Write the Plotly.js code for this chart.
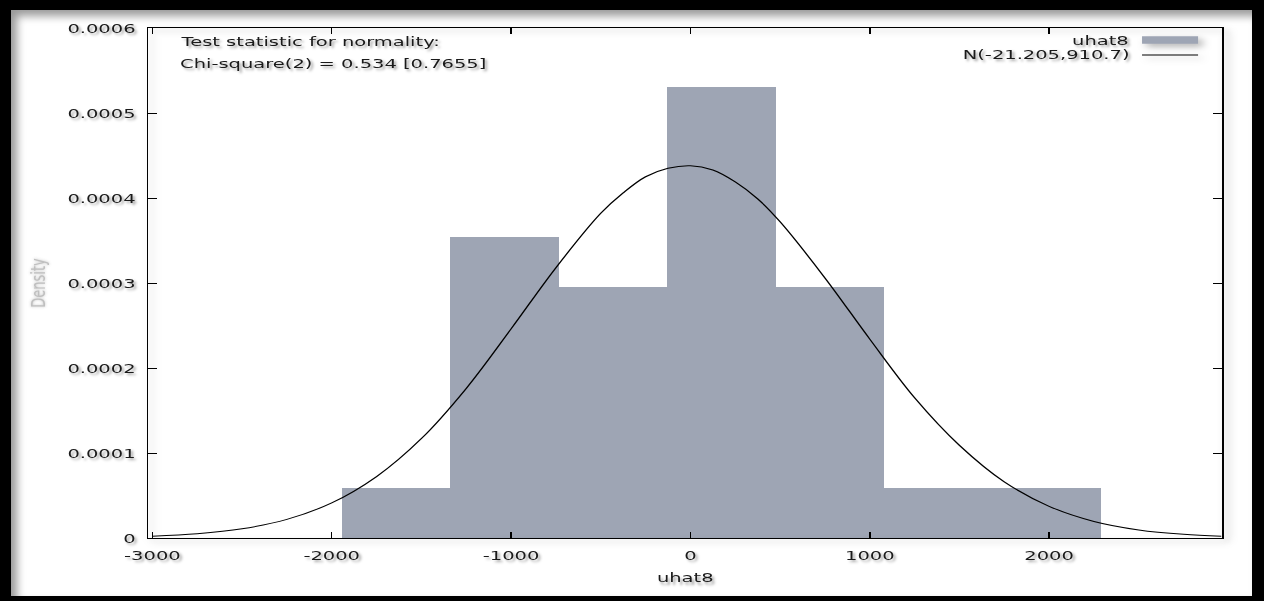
<!DOCTYPE html>
<html>
<head>
<meta charset="utf-8">
<script src="https://cdn.plot.ly/plotly-3.0.1.min.js"></script>
<style>
  html, body { margin: 0; padding: 0; background: #fff; overflow: hidden; }
  #wrap { position: absolute; left: 0; top: 0; width: 1264px; height: 601px; overflow: hidden; background: #fff; }
  #chart { position: absolute; left: 0; top: 0; width: 843px; height: 601px; transform: scaleX(1.4994); transform-origin: 0 0; }
  #chart .plot, #chart .xlines-above, #chart .ylines-above, #chart .layer-above .shapelayer {
    filter: drop-shadow(3px 3px 3px rgba(0,0,0,0.3));
  }
  #frame { position: absolute; left: 0; top: 0; width: 1264px; height: 601px; box-sizing: border-box;
    border-style: solid; border-color: #000; border-width: 10px 12px 5px 11px;
    box-shadow: inset 6px 6px 9px rgba(0,0,0,0.4); pointer-events: none; }
</style>
</head>
<body>
<div id="wrap">
  <div id="chart"></div>
  <div id="frame"></div>
</div>
<script>
// Histogram of uhat8 (density scale), 7 bins of width ~605
const binCenters = [-1642.5, -1037.5, -432.5, 172.5, 777.5, 1382.5, 1987.5];
const binWidth = 605;
const density = [0.0000590, 0.000354, 0.000295, 0.000531, 0.000295, 0.0000590, 0.0000590];

// Normal density curve N(-21.205, 910.7)
const curveX = [-3000, -2750, -2500, -2250, -2000, -1750, -1500, -1250, -1000, -750, -500, -375, -250, -125, 0,
                125, 250, 375, 500, 750, 1000, 1250, 1500, 1750, 2000, 2250, 2500, 2750, 2960];
const curveY = [0.00000208, 0.00000492, 0.0000108, 0.0000219, 0.0000413, 0.0000723, 0.000117, 0.000176,
                0.000246, 0.000318, 0.000382, 0.000406, 0.000425, 0.000435, 0.000438, 0.000433, 0.000419, 0.000399,
                0.000372, 0.000306, 0.000234, 0.000165, 0.000109, 0.0000661, 0.0000373, 0.0000195,
                0.00000949, 0.00000427, 0.00000206];

const xTicks = [-3000, -2000, -1000, 0, 1000, 2000];
const xTickText = ['-3000', '-2000', '-1000', '0', '1000', '2000'];
const yTicks = [0, 0.0001, 0.0002, 0.0003, 0.0004, 0.0005, 0.0006];
const yTickText = ['0', '0.0001', '0.0002', '0.0003', '0.0004', '0.0005', '0.0006'];

const seriesName = 'uhat8';
const curveName = 'N(-21.205,910.7)';
const yTitle = 'Density';
const testLine1 = 'Test statistic for normality:';
const testLine2 = 'Chi-square(2) = 0.534 [0.7655]';

const FONT = 'DejaVu Sans, sans-serif';
const SHADOW = '2px 3px 3px rgba(0,0,0,0.38)';
const barColor = '#9ea5b4';

const traces = [
  {
    type: 'bar', x: binCenters, y: density, width: binWidth, name: seriesName,
    marker: { color: barColor, line: { width: 0 } }, showlegend: false
  },
  {
    type: 'scatter', mode: 'lines', x: curveX, y: curveY, name: curveName,
    line: { color: '#000', width: 1, shape: 'spline', smoothing: 1 }, showlegend: false
  }
];

const tfont = { family: FONT, size: 13, color: '#1a1a1a', shadow: SHADOW };

const layout = {
  width: 843, height: 601,
  margin: { l: 99, r: 28, t: 28, b: 63 },
  paper_bgcolor: 'rgba(0,0,0,0)',
  plot_bgcolor: 'rgba(0,0,0,0)',
  showlegend: false,
  bargap: 0,
  xaxis: {
    range: [-3022, 2964], tickvals: xTicks, ticktext: xTickText,
    ticks: 'inside', ticklen: 6, tickcolor: '#000', tickwidth: 1,
    showline: true, linecolor: '#000', linewidth: 1, mirror: 'ticks',
    showgrid: false, zeroline: false, tickfont: tfont, ticklabelstandoff: 5,
    title: { text: seriesName, font: tfont, standoff: 11 }
  },
  yaxis: {
    range: [0, 0.0006], tickvals: yTicks, ticktext: yTickText,
    ticks: 'inside', ticklen: 6, tickcolor: '#000', tickwidth: 1,
    showline: true, linecolor: '#000', linewidth: 1, mirror: 'ticks',
    showgrid: false, zeroline: false, tickfont: tfont, ticklabelstandoff: 5,
    title: { text: yTitle, font: { family: FONT, size: 13, color: 'rgba(170,170,170,0.75)', shadow: '0px 0px 3px rgba(120,120,120,0.7)' }, standoff: 11 }
  },
  annotations: [
    { xref: 'paper', yref: 'paper', x: 0.026, y: 0.973, xanchor: 'left', yanchor: 'middle',
      text: testLine1, showarrow: false, font: tfont },
    { xref: 'paper', yref: 'paper', x: 0.026, y: 0.931, xanchor: 'left', yanchor: 'middle',
      text: testLine2, showarrow: false, font: tfont },
    { xref: 'paper', yref: 'paper', x: 0.916, y: 0.976, xanchor: 'right', yanchor: 'middle',
      text: seriesName, showarrow: false, font: tfont },
    { xref: 'paper', yref: 'paper', x: 0.916, y: 0.949, xanchor: 'right', yanchor: 'middle',
      text: curveName, showarrow: false, font: tfont }
  ],
  shapes: [
    { type: 'rect', xref: 'paper', yref: 'paper', x0: 0.9255, x1: 0.9777, y0: 0.969, y1: 0.984,
      fillcolor: barColor, line: { width: 0 } },
    { type: 'line', xref: 'paper', yref: 'paper', x0: 0.9255, x1: 0.9777, y0: 0.947, y1: 0.947,
      line: { color: '#000', width: 1 } }
  ]
};

Plotly.newPlot('chart', traces, layout, { displayModeBar: false, staticPlot: true });
</script>
</body>
</html>
